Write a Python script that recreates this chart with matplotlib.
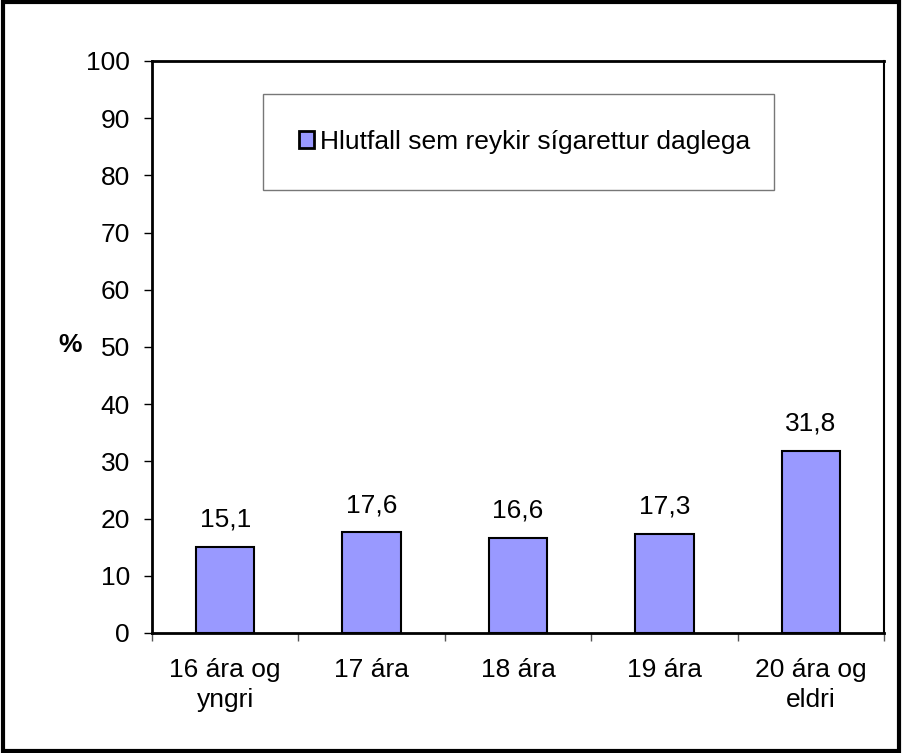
import matplotlib
matplotlib.use("Agg")
import matplotlib.pyplot as plt
from matplotlib.patches import Rectangle, Patch
import numpy as np

categories = ["16 ára og\nyngri", "17 ára", "18 ára", "19 ára", "20 ára og\neldri"]
values = [15.1, 17.6, 16.6, 17.3, 31.8]
value_labels = ["15,1", "17,6", "16,6", "17,3", "31,8"]
series_name = "Hlutfall sem reykir sígarettur daglega"
yticks = [0, 10, 20, 30, 40, 50, 60, 70, 80, 90, 100]

FS = 19
plt.rcParams['font.family'] = ['Liberation Sans', 'DejaVu Sans']
fig = plt.figure(figsize=(9.02, 7.53), dpi=100)
ax = fig.add_axes([152/902, 1-633/753, (884-152)/902, (633-61)/753])

x = np.arange(len(categories))
ax.bar(x, values, width=0.4, color="#9999FF", edgecolor="black", linewidth=1.5, zorder=3)
for xi, v, lab in zip(x, values, value_labels):
    ax.annotate(lab, (xi, v), xytext=(0, 11), textcoords="offset points",
                ha="center", va="bottom", fontsize=FS)

ax.set_xlim(-0.5, len(categories) - 0.5)
ax.set_ylim(0, 100)
ax.set_yticks(yticks)
ax.set_yticklabels([str(t) for t in yticks], fontsize=FS)
ax.set_xticks(np.arange(-0.5, len(categories)), minor=False)
ax.set_xticklabels([])
ax.set_xticks(x, minor=True)
ax.set_xticklabels(categories, minor=True, fontsize=FS)
ax.tick_params(axis='x', which='minor', length=0, pad=18)
ax.tick_params(axis='x', which='major', length=6, width=1, direction='out', color='#555555')
ax.tick_params(axis='y', length=6, width=1, direction='out', pad=10)
for lab in ax.get_xticklabels(minor=True):
    lab.set_linespacing(1.3)

ax.spines['left'].set_linewidth(2)
ax.spines['bottom'].set_linewidth(2)
ax.spines['top'].set_linewidth(2)
ax.spines['right'].set_linewidth(1.5)

fig.text(70/902, 1-345/753, "%", fontsize=FS, fontweight='bold', ha='center', va='center')

handle = Patch(facecolor="#9999FF", edgecolor="black", linewidth=2)
leg = ax.legend([handle], [series_name], loc='center',
                bbox_to_anchor=((263-152)/732, (633-190)/572, (774-263)/732, (190-94)/572),
                mode='expand', fontsize=FS, frameon=True, fancybox=False,
                edgecolor='#555555', handlelength=0.6, handleheight=0.6, handletextpad=0.2,
                borderaxespad=0, borderpad=1.35)
leg.get_frame().set_linewidth(1)

fig.patches.append(Rectangle((0.003, 0.003), 0.994, 0.994, transform=fig.transFigure,
                             fill=False, edgecolor='black', linewidth=3))

fig.savefig("out.png", dpi=100)
